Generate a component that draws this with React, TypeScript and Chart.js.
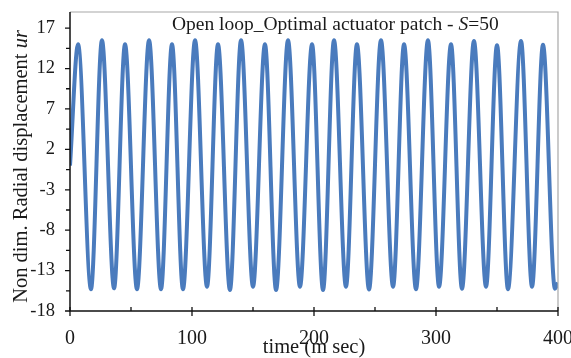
import React, { useEffect, useRef } from 'react';
import { Chart, registerables } from 'chart.js';

Chart.register(...registerables);

// Start, alternating peaks / troughs, end (time in ms)
const timeMs = [
  0, 6.6, 17.2, 26.2, 36.1, 45.1, 54.9, 64.8, 74.6, 83.6, 92.6, 102.5, 112.3,
  121.3, 131.1, 140.2, 150.0, 159.8, 168.9, 178.7, 188.5, 198.4, 207.4, 216.4,
  226.2, 235.2, 245.1, 254.9, 264.8, 273.8, 283.6, 293.4, 302.5, 312.3, 321.3,
  331.1, 341.0, 350.0, 359.0, 369.7, 378.7, 387.7, 397.5, 400,
];
const radialDisp = [
  0, 15.0, -15.3, 15.5, -15.2, 15.0, -15.3, 15.5, -15.3, 15.0, -15.3, 15.5, -15.0,
  15.0, -15.4, 15.5, -15.0, 15.0, -15.4, 15.5, -15.0, 15.0, -15.4, 15.5,
  -15.0, 15.0, -15.35, 15.5, -15.0, 15.0, -15.3, 15.5, -15.0, 15.0, -15.25,
  15.4, -15.0, 14.9, -15.3, 15.4, -15.0, 14.95, -15.25, -14.5,
];

const yTickValues = [-18, -13, -8, -3, 2, 7, 12, 17];
const yMinorTicks = [-15.5, -10.5, -5.5, -0.5, 4.5, 9.5, 14.5];
const xTickValues = [0, 100, 200, 300, 400];
const xMinorTicks = [50, 150, 250, 350];

const titleParts = ['Open loop_Optimal actuator patch - ', 'S', '=50'];
const yTitleParts = ['Non dim. Radial displacement ', 'ur'];
const xTitle = 'time (m sec)';

const SERIF = '"Liberation Serif", "Times New Roman", serif';

const decorPlugin = {
  id: 'decor',
  afterDatasetsDraw(chart: any) {
    const { ctx, chartArea: a, scales } = chart;
    const x = scales.x;
    const y = scales.y;
    ctx.save();
    // grey frame (top, right)
    ctx.strokeStyle = '#a8a8a8';
    ctx.lineWidth = 1.2;
    ctx.beginPath();
    ctx.moveTo(a.left, a.top);
    ctx.lineTo(a.right, a.top);
    ctx.lineTo(a.right, a.bottom);
    ctx.stroke();
    // black axes
    ctx.strokeStyle = '#111';
    ctx.lineWidth = 1.5;
    ctx.beginPath();
    ctx.moveTo(a.left, a.top);
    ctx.lineTo(a.left, a.bottom);
    ctx.lineTo(a.right, a.bottom);
    ctx.stroke();
    ctx.lineWidth = 1.3;
    ctx.beginPath();
    yTickValues.forEach((v) => {
      const py = y.getPixelForValue(v);
      ctx.moveTo(a.left - 5, py);
      ctx.lineTo(a.left, py);
    });
    yMinorTicks.forEach((v) => {
      const py = y.getPixelForValue(v);
      ctx.moveTo(a.left - 4, py);
      ctx.lineTo(a.left, py);
    });
    xTickValues.forEach((v) => {
      const px = x.getPixelForValue(v);
      ctx.moveTo(px, a.bottom - 4);
      ctx.lineTo(px, a.bottom + 5);
    });
    xMinorTicks.forEach((v) => {
      const px = x.getPixelForValue(v);
      ctx.moveTo(px, a.bottom - 4);
      ctx.lineTo(px, a.bottom);
    });
    ctx.stroke();
    ctx.restore();
  },
  afterDraw(chart: any) {
    const { ctx } = chart;
    ctx.save();
    ctx.fillStyle = '#1a1a1a';
    ctx.textBaseline = 'alphabetic';
    ctx.textAlign = 'left';
    // in-plot title
    const fs = 19.5;
    const norm = `${fs}px ${SERIF}`;
    const ital = `italic ${fs}px ${SERIF}`;
    let cx = 172;
    const by = 29.5;
    [norm, ital, norm].forEach((f, i) => {
      ctx.font = f;
      ctx.fillText(titleParts[i], cx, by);
      cx += ctx.measureText(titleParts[i]).width;
    });
    // y axis title (rotated)
    const yfs = 20.5;
    const yn = `${yfs}px ${SERIF}`;
    const yi = `italic ${yfs}px ${SERIF}`;
    ctx.font = yn;
    const w1 = ctx.measureText(yTitleParts[0]).width;
    ctx.font = yi;
    const w2 = ctx.measureText(yTitleParts[1]).width;
    const total = w1 + w2;
    ctx.translate(27, 166.5);
    ctx.rotate(-Math.PI / 2);
    ctx.font = yn;
    ctx.fillText(yTitleParts[0], -total / 2, 0);
    ctx.font = yi;
    ctx.fillText(yTitleParts[1], -total / 2 + w1, 0);
    ctx.restore();
  },
};

export default function App() {
  const ref = useRef<HTMLCanvasElement | null>(null);
  useEffect(() => {
    document.body.style.margin = '0';
    document.body.style.overflow = 'hidden';
    const canvas = ref.current;
    if (!canvas) return;
    const chart = new Chart(canvas, {
      type: 'line',
      data: {
        datasets: [
          {
            data: timeMs.map((t, i) => ({ x: t, y: radialDisp[i] })),
            borderColor: '#4a7bbd',
            borderWidth: 4,
            pointRadius: 0,
            cubicInterpolationMode: 'monotone',
            fill: false,
          },
        ],
      },
      options: {
        responsive: false,
        animation: false,
        devicePixelRatio: 1,
        layout: { padding: { top: 12, left: 0, right: 13, bottom: 0 } },
        plugins: {
          legend: { display: false },
          tooltip: { enabled: false },
        },
        scales: {
          x: {
            type: 'linear',
            min: 0,
            max: 400,
            grid: { display: false, drawTicks: false },
            border: { display: false },
            ticks: {
              stepSize: 100,
              padding: 16,
              color: '#1a1a1a',
              font: { family: SERIF, size: 20 },
              maxRotation: 0,
            },
            title: {
              display: true,
              text: xTitle,
              color: '#1a1a1a',
              font: { family: SERIF, size: 20.5 },
              padding: { top: 0, bottom: -2 },
            },
            afterBuildTicks: (scale: any) => {
              scale.ticks = xTickValues.map((v) => ({ value: v }));
            },
            afterFit: (scale: any) => {
              scale.height = 47;
              scale.paddingRight = 0;
              scale.paddingLeft = 0;
            },
          },
          y: {
            type: 'linear',
            min: -18,
            max: 19,
            grid: { display: false, drawTicks: false },
            border: { display: false },
            ticks: {
              padding: 15,
              color: '#1a1a1a',
              font: { family: SERIF, size: 18.5 },
            },
            afterBuildTicks: (scale: any) => {
              scale.ticks = yTickValues.map((v) => ({ value: v }));
            },
            afterFit: (scale: any) => {
              scale.width = 70;
              scale.paddingTop = 0;
              scale.paddingBottom = 0;
            },
          },
        },
      },
      plugins: [decorPlugin],
    });
    return () => chart.destroy();
  }, []);
  return (
    <div style={{ width: 571, height: 358, overflow: 'hidden' }}>
      <canvas ref={ref} width={571} height={358} style={{ display: 'block' }} />
    </div>
  );
}
